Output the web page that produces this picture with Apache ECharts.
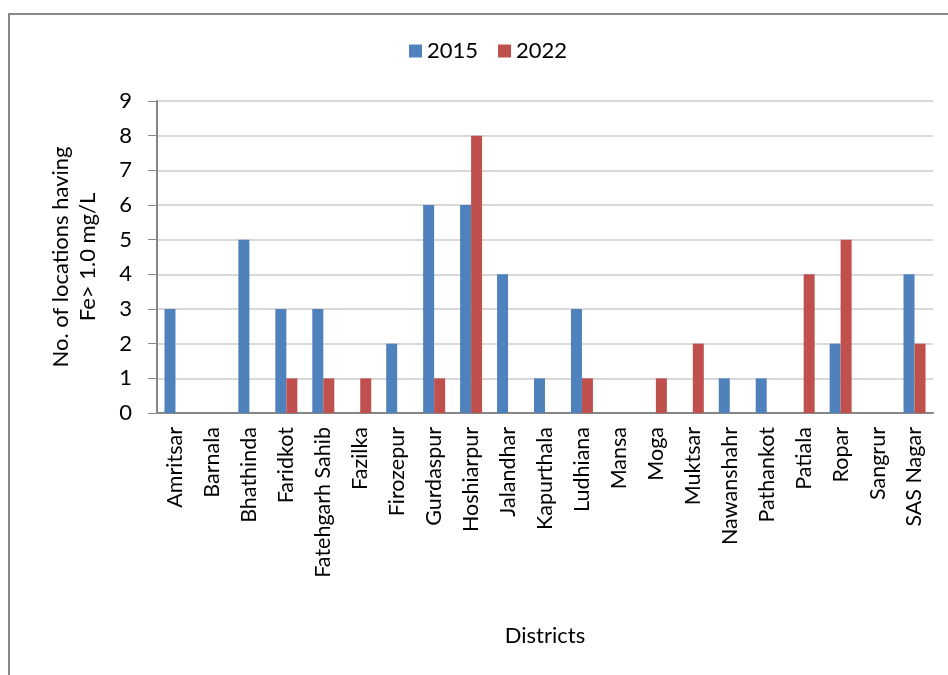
<!DOCTYPE html>
<html>
<head>
<meta charset="utf-8">
<script src="https://cdn.jsdelivr.net/npm/echarts@6/dist/echarts.min.js"></script>
<style>
html, body { margin: 0; padding: 0; background: #fff; }
#chart { width: 948px; height: 675px; }
</style>
</head>
<body>
<div id="chart"></div>
<script>
// districts along the x axis
var districts = ["Amritsar", "Barnala", "Bhathinda", "Faridkot", "Fatehgarh Sahib", "Fazilka",
	"Firozepur", "Gurdaspur", "Hoshiarpur", "Jalandhar", "Kapurthala", "Ludhiana", "Mansa",
	"Moga", "Muktsar", "Nawanshahr", "Pathankot", "Patiala", "Ropar", "Sangrur", "SAS Nagar"];
// locations with Fe > 1.0 mg/L
var y2015 = [3, 0, 5, 3, 3, 0, 2, 6, 6, 4, 1, 3, 0, 0, 0, 1, 1, 0, 2, 0, 4];
var y2022 = [0, 0, 0, 1, 1, 1, 0, 1, 8, 0, 0, 1, 0, 1, 2, 0, 0, 4, 5, 0, 2];
var seriesNames = ["2015", "2022"];

var font = "Lato, 'Open Sans', sans-serif";
var chart = echarts.init(document.getElementById("chart"));
chart.setOption({
	animation: false,
	textStyle: { fontFamily: font },
	graphic: [{
		type: "rect",
		shape: { x: 9, y: 14, width: 1000, height: 700 },
		style: { fill: "none", stroke: "#888", lineWidth: 2 },
		silent: true
	}],
	legend: {
		top: 35,
		left: 404,
		itemWidth: 13,
		itemHeight: 13,
		itemGap: 20,
		icon: "rect",
		textStyle: { fontSize: 22, color: "#000", fontFamily: font },
		data: seriesNames
	},
	grid: { left: 157, right: 15, top: 101, bottom: 262 },
	xAxis: {
		type: "category",
		data: districts,
		name: "Districts",
		nameLocation: "middle",
		nameGap: 212,
		nameTextStyle: { fontSize: 22, color: "#000", fontFamily: font },
		axisLine: { lineStyle: { color: "#868686", width: 2 } },
		axisTick: { show: false },
		axisLabel: { rotate: 90, interval: 0, fontSize: 21.5, color: "#000", margin: 14, fontFamily: font }
	},
	yAxis: {
		type: "value",
		min: 0,
		max: 9,
		interval: 1,
		name: "No. of locations having\nFe> 1.0 mg/L",
		nameLocation: "middle",
		nameGap: 56,
		nameTextStyle: { fontSize: 22, color: "#000", lineHeight: 27, fontFamily: font },
		axisLine: { show: true, lineStyle: { color: "#868686", width: 2 } },
		axisTick: { show: true, length: 9, lineStyle: { color: "#868686" } },
		axisLabel: { fontSize: 22, color: "#000", margin: 25, fontFamily: font },
		splitLine: { lineStyle: { color: "#d9d9d9", width: 2 } }
	},
	series: [{
		name: seriesNames[0],
		type: "bar",
		data: y2015,
		barWidth: 11,
		barGap: "0%",
		itemStyle: { color: "#4F81BD" }
	}, {
		name: seriesNames[1],
		type: "bar",
		data: y2022,
		barWidth: 11,
		itemStyle: { color: "#C0504D" }
	}]
});
</script>
</body>
</html>
